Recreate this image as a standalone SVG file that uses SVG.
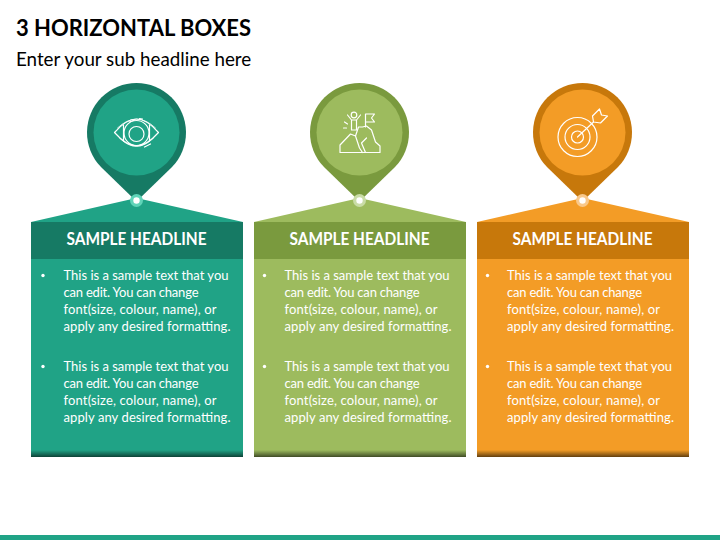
<svg xmlns="http://www.w3.org/2000/svg" width="720" height="540" viewBox="0 0 720 540">
<defs>
<linearGradient id="sg" x1="0" y1="0" x2="0" y2="1"><stop offset="0" stop-color="#000" stop-opacity="0"/><stop offset=".6" stop-color="#000" stop-opacity=".35"/><stop offset="1" stop-color="#000" stop-opacity=".6"/></linearGradient>
<path id="pin" d="M-35.500 34.500A49.500 49.500 0 1 1 35.500 34.500L0 69Z"/>
<path id="top" d="M-105.500 222L0 198L106.500 222Z"/>
</defs>
<style>
text{font-family:Lato,"Liberation Sans",sans-serif;fill:#fff}
.t{font-size:23px;font-weight:700;fill:#000}
.s{font-size:18.800px;fill:#000}
.h{font-size:16.500px;font-weight:700;text-anchor:middle}
.b{font-size:13px}
.ic{fill:none;stroke:#fff;stroke-width:1.200;stroke-linejoin:round;stroke-linecap:round}
.g .d{fill:#167a64}.g .l{fill:#20a386}.g .r{fill:#5fd4b8}
.o .d{fill:#7a9a3e}.o .l{fill:#9dbb5e}.o .r{fill:#c9dca6}
.y .d{fill:#c7780b}.y .l{fill:#f39c26}.y .r{fill:#f9c88a}
</style>
<rect width="720" height="540" fill="#fff"/>
<text class="t" x="16" y="36" textLength="235" lengthAdjust="spacingAndGlyphs">3 HORIZONTAL BOXES</text>
<text class="s" x="16" y="66">Enter your sub headline here</text>
<rect x="0" y="535" width="720" height="5" fill="#20a386"/>
<g id="node-1" class="g" transform="translate(136.500 0)">
<use href="#pin" class="d" y="132.500"/>
<circle class="l" cy="132.500" r="43"/>
<use href="#top" class="l"/>
<rect class="d" x="-105.500" y="222" width="212" height="37"/>
<rect class="l" x="-105.500" y="259" width="212" height="198"/>
<rect x="-105.500" y="450" width="212" height="7" fill="url(#sg)"/>
<circle class="r" cy="200.500" r="6.500"/><circle cy="200.500" r="3.200" fill="#fff"/>
<g class="ic"><path d="M-22 132.500Q-10 119 0 119Q10 119 22 132.500Q10 146 0 146Q-10 146 -22 132.500Z"/><circle cy="133" r="12.500"/><circle cy="134" r="7.500"/><path d="M-13 125V141M13 125V141M-7 122L-2 120M3 118.500L6 119M8 147L14 144"/><path d="M-19 128Q0 110 19 128M-17 138Q0 155 17 138" stroke-width=".8"/></g>
<text class="h" y="245" textLength="140" lengthAdjust="spacingAndGlyphs">SAMPLE HEADLINE</text>
<circle cx="-93.500" cy="275.500" r="1.700" fill="#fff"/><circle cx="-93.500" cy="366.500" r="1.700" fill="#fff"/>
<g class="b"><text x="-73" y="280" textLength="165">This is a sample text that you</text><text x="-73" y="297" textLength="135">can edit. You can change</text><text x="-73" y="314" textLength="153">font(size, colour, name), or</text><text x="-73" y="331" textLength="167">apply any desired formatting.</text>
<text x="-73" y="371" textLength="165">This is a sample text that you</text><text x="-73" y="388" textLength="135">can edit. You can change</text><text x="-73" y="405" textLength="153">font(size, colour, name), or</text><text x="-73" y="422" textLength="167">apply any desired formatting.</text></g>
</g>
<g id="node-2" class="o" transform="translate(359.500 0)">
<use href="#pin" class="d" y="132.500"/>
<circle class="l" cy="132.500" r="43"/>
<use href="#top" class="l"/>
<rect class="d" x="-105.500" y="222" width="212" height="37"/>
<rect class="l" x="-105.500" y="259" width="212" height="198"/>
<rect x="-105.500" y="450" width="212" height="7" fill="url(#sg)"/>
<circle class="r" cy="200.500" r="6.500"/><circle cy="200.500" r="3.200" fill="#fff"/>
<g class="ic"><path d="M-19.500 152.500V145L-9 134L-4 136L-1 127H3L7 126L12 130L16 142L20.500 146V152.500ZM-4 136L0 148L3 152.500M6 152.500L2 143L7 138"/><circle cx="-5.500" cy="115" r="2.800"/><path d="M-12 115L-8 120H-3L1 115M-8 120V130M-3 120V130H-8M6 127V114H15L12 118L15 122H6M-15 122L-12 124M-16 128L-13 128"/></g>
<text class="h" y="245" textLength="140" lengthAdjust="spacingAndGlyphs">SAMPLE HEADLINE</text>
<circle cx="-95" cy="275.500" r="1.700" fill="#fff"/><circle cx="-95" cy="366.500" r="1.700" fill="#fff"/>
<g class="b"><text x="-75" y="280" textLength="165">This is a sample text that you</text><text x="-75" y="297" textLength="135">can edit. You can change</text><text x="-75" y="314" textLength="153">font(size, colour, name), or</text><text x="-75" y="331" textLength="167">apply any desired formatting.</text>
<text x="-75" y="371" textLength="165">This is a sample text that you</text><text x="-75" y="388" textLength="135">can edit. You can change</text><text x="-75" y="405" textLength="153">font(size, colour, name), or</text><text x="-75" y="422" textLength="167">apply any desired formatting.</text></g>
</g>
<g id="node-3" class="y" transform="translate(582.500 0)">
<use href="#pin" class="d" y="132.500"/>
<circle class="l" cy="132.500" r="43"/>
<use href="#top" class="l"/>
<rect class="d" x="-105.500" y="222" width="212" height="37"/>
<rect class="l" x="-105.500" y="259" width="212" height="198"/>
<rect x="-105.500" y="450" width="212" height="7" fill="url(#sg)"/>
<circle class="r" cy="200.500" r="6.500"/><circle cy="200.500" r="3.200" fill="#fff"/>
<g class="ic" transform="translate(-5 0)" stroke-width="1.700"><circle cy="137" r="19.500"/><circle cy="137" r="12.500"/><circle cy="137" r="6"/><path d="M0 137L16 122"/><path d="M16 122L15 116L22 109L24 115L30 116L23 123Z"/></g>
<text class="h" y="245" textLength="140" lengthAdjust="spacingAndGlyphs">SAMPLE HEADLINE</text>
<circle cx="-95" cy="275.500" r="1.700" fill="#fff"/><circle cx="-95" cy="366.500" r="1.700" fill="#fff"/>
<g class="b"><text x="-75.500" y="280" textLength="165">This is a sample text that you</text><text x="-75.500" y="297" textLength="135">can edit. You can change</text><text x="-75.500" y="314" textLength="153">font(size, colour, name), or</text><text x="-75.500" y="331" textLength="167">apply any desired formatting.</text>
<text x="-75.500" y="371" textLength="165">This is a sample text that you</text><text x="-75.500" y="388" textLength="135">can edit. You can change</text><text x="-75.500" y="405" textLength="153">font(size, colour, name), or</text><text x="-75.500" y="422" textLength="167">apply any desired formatting.</text></g>
</g>
<g id="connectors"/>
</svg>
